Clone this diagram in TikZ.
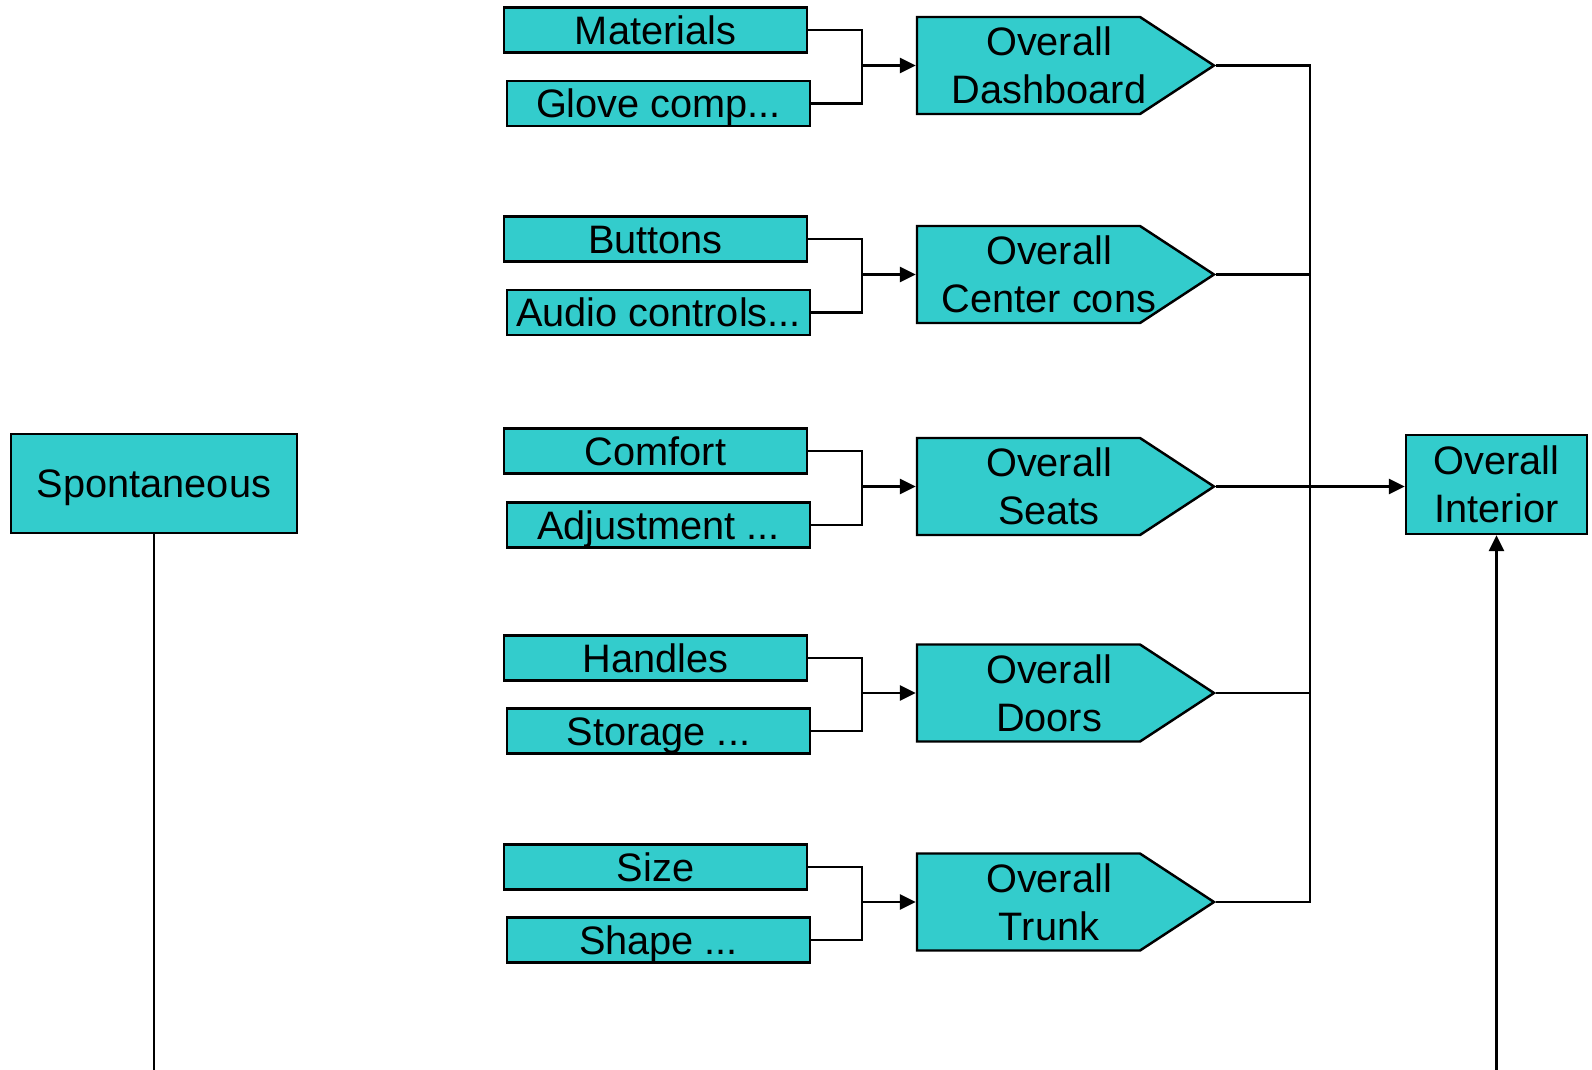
\documentclass[tikz,border=0pt]{standalone}
\usepackage{fontspec}
\setmainfont{Liberation Sans}
\usepackage{tikz}
\usetikzlibrary{arrows.meta, shapes.symbols}
\definecolor{boxcyan}{RGB}{51,204,204}

\begin{document}
\begin{tikzpicture}[x=0.1mm, y=-0.1mm,
    font=\fontsize{11.3}{13.6}\selectfont,
    item/.style={rectangle, draw, fill=boxcyan, line width=0.7pt, minimum width=30.3mm, minimum height=4.5mm, inner sep=0pt, text height=3.4mm, text depth=0.6mm},
    group/.style={signal, signal to=east, signal pointer angle=66.5, draw, fill=boxcyan, line width=0.7pt, minimum width=29.7mm, minimum height=9.7mm, inner sep=0pt, label={[align=center, xshift=2.05mm]center:#1}},
    total/.style={rectangle, draw, fill=boxcyan, line width=0.7pt, minimum height=9.9mm, inner sep=0pt, align=center},
    link/.style={line width=0.6pt},
    >={Triangle[length=4.5pt, width=4.3pt]}]
    \useasboundingbox (0,0) rectangle (1592,1070);

    % Sub-criteria
    \node[item] (mat) at (655.5,30) {Materials};
    \node[item] (glove) at (658.5,103.5) {Glove comp...};
    \node[item] (btn) at (655.5,239) {Buttons};
    \node[item] (audio) at (658.5,312.5) {Audio controls...};
    \node[item] (comf) at (655.5,451) {Comfort};
    \node[item] (adj) at (658.5,525) {Adjustment ...};
    \node[item] (hand) at (655.5,658) {Handles};
    \node[item] (stor) at (658.5,731) {Storage ...};
    \node[item] (size) at (655.5,867) {Size};
    \node[item] (shape) at (658.5,940) {Shape ...};

    % Overall groups
    \node[group={Overall\\Dashboard}] (dash) at (1028.5,65.5) {};
    \node[group={Overall\\Center cons}] (cent) at (1028.5,274.5) {};
    \node[group={Overall\\Seats}] (seat) at (1028.5,486.5) {};
    \node[group={Overall\\Doors}] (door) at (1028.5,693) {};
    \node[group={Overall\\Trunk}] (trunk) at (1028.5,902) {};

    % End points
    \node[total, minimum width=28.6mm, text height=3.4mm, text depth=0.6mm] (spont) at (154,483.5) {Spontaneous};
    \node[total, minimum width=18.1mm] (inter) at (1496.5,484.5) {Overall\\Interior};

    % Junctions
    \coordinate (jdash) at (862,65.5);
    \coordinate (jcent) at (862,274.5);
    \coordinate (jseat) at (862,486.5);
    \coordinate (jdoor) at (862,693);
    \coordinate (jtrunk) at (862,902);
    \coordinate (bustop) at (1310,65.5);
    \coordinate (busbot) at (1310,902);
    \coordinate (spbot) at (154,1070);
    \coordinate (inbot) at (1496.5,1070);

    % Connections
    \draw[link] (mat.east) -| (jdash);
    \draw[link] (glove.east) -| (jdash);
    \draw[link, ->] (jdash) -- (dash);
    \draw[link] (btn.east) -| (jcent);
    \draw[link] (audio.east) -| (jcent);
    \draw[link, ->] (jcent) -- (cent);
    \draw[link] (comf.east) -| (jseat);
    \draw[link] (adj.east) -| (jseat);
    \draw[link, ->] (jseat) -- (seat);
    \draw[link] (hand.east) -| (jdoor);
    \draw[link] (stor.east) -| (jdoor);
    \draw[link, ->] (jdoor) -- (door);
    \draw[link] (size.east) -| (jtrunk);
    \draw[link] (shape.east) -| (jtrunk);
    \draw[link, ->] (jtrunk) -- (trunk);

    \draw[link] (dash.east) -- (bustop) -- (busbot) -- (trunk.east);
    \draw[link] (cent.east) -- (cent.east -| bustop);
    \draw[link] (door.east) -- (door.east -| bustop);
    \draw[link, ->] (seat.east) -- (seat.east -| inter.west);
    \draw[link] (spont) -- (spbot);
    \draw[link, ->] (inbot) -- (inter);
\end{tikzpicture}
\end{document}
